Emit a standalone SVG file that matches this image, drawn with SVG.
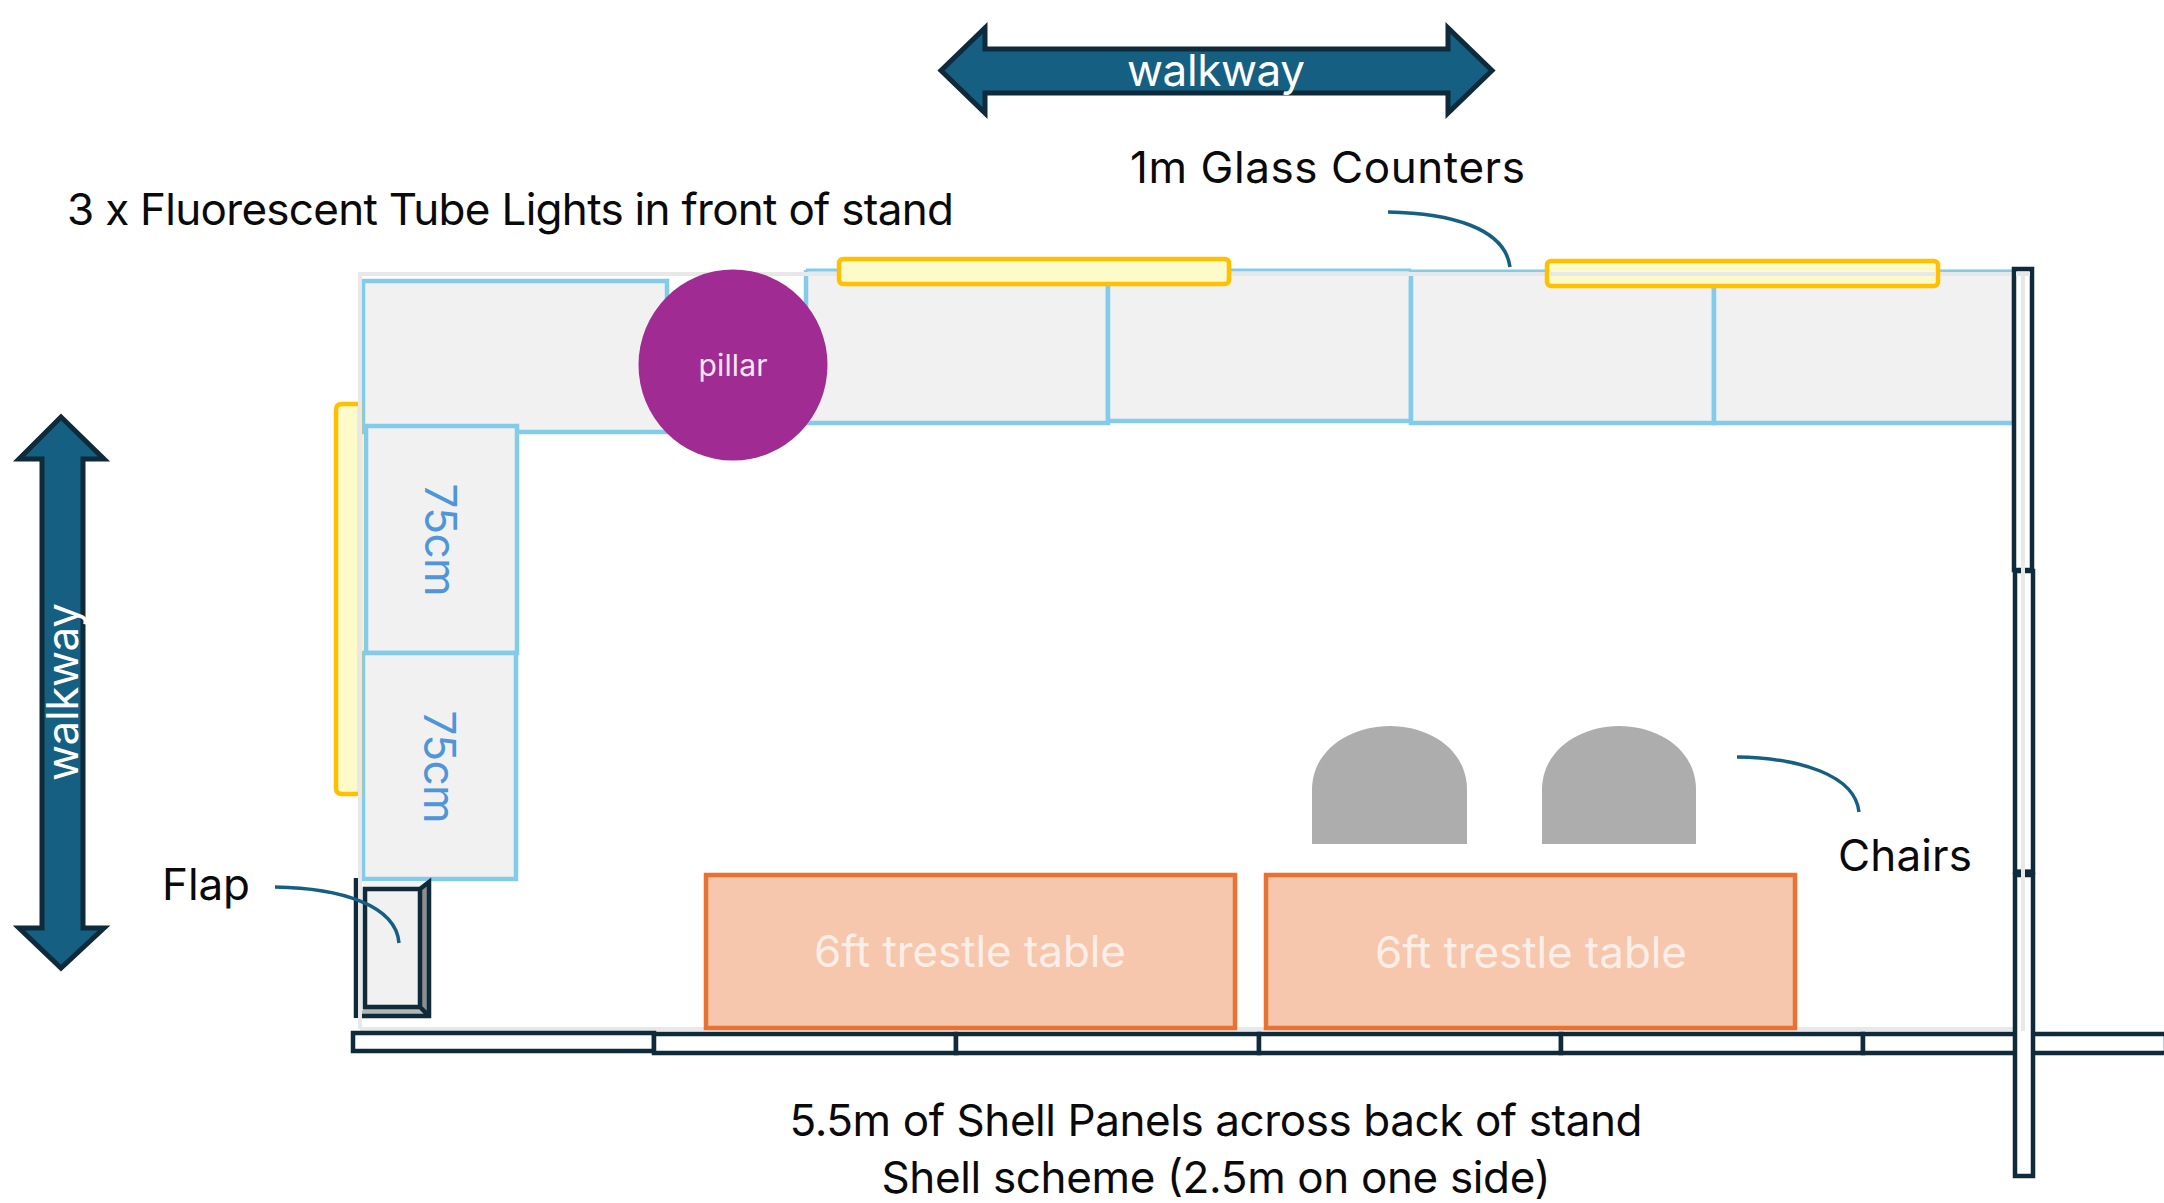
<svg xmlns="http://www.w3.org/2000/svg" width="2164" height="1203" viewBox="0 0 2164 1203">
<style>
text{font-family:"Inter","Liberation Sans",sans-serif}
.lbl{font-size:44px;fill:#0a0a0a}
.ctr{fill:#f1f1f1;stroke:#83cbeb;stroke-width:4.500}
.lamp{fill:#fefbcb;stroke:#ffc000;stroke-width:4.500}
.panel{fill:#fff;stroke:#0e2a3b;stroke-width:4.500}
.arrow{fill:#156082;stroke:#0e2a3b;stroke-width:5}
.table{fill:#f6c6ad;stroke:#e97132;stroke-width:4.500}
.tt{font-size:44px;fill:#fbeee7;text-anchor:middle}
.wk{font-size:44px;fill:#fff;text-anchor:middle}
.cm{font-size:44px;fill:#4e95d9;text-anchor:middle}
.chair{fill:#adadad}
.lead{fill:none;stroke:#156082;stroke-width:3.500}
.outline{fill:none;stroke:#e8e8e8;stroke-width:4}
</style>
<g id="walkway-top"><path class="arrow" d="M941 70.500L985 28V49H1448V28L1492 70.500L1448 113V93H985V113Z"/><text class="wk" x="1216" y="86" textLength="178">walkway</text></g>
<g id="walkway-left"><path class="arrow" d="M61 417L104 459H83V928H104L61 968L19 928H42V459H19Z"/><text class="wk" transform="translate(78 692) rotate(-90)" textLength="178">walkway</text></g>
<g id="counter-bg"><path d="M806 272H2014V423H806Z" fill="#f1f1f1"/></g>
<g id="counter-1"><path class="ctr" d="M363 281H667V432H363Z"/></g>
<g id="counter-3"><path class="ctr" fill="none" d="M806 270V423H1108V272"/></g>
<g id="counter-4"><path class="ctr" d="M1108 280V421H1411V280"/></g>
<g id="counter-5"><path class="ctr" d="M1411 270V423H1714V272"/></g>
<g id="counter-6"><path class="ctr" d="M1714 272V423H2014V272Z"/></g>
<path d="M806 270H1411M1411 271H2014" fill="none" stroke="#83cbeb" stroke-width="3"/>
<g id="counter-75a"><rect class="ctr" x="366" y="426" width="151" height="227"/><text class="cm" transform="translate(425 540) rotate(90)" textLength="113">75cm</text></g>
<g id="counter-75b"><rect class="ctr" x="363" y="653" width="153" height="226"/><text class="cm" transform="translate(424 767) rotate(90)" textLength="113">75cm</text></g>
<g id="lamp-left"><path class="lamp" d="M360 404H342Q336 404 336 410V788Q336 794 342 794H360Z"/></g>
<g id="chair-1"><path class="chair" d="M1312 844V790C1312 750 1350 726 1390 726C1430 726 1467 750 1467 790V844Z"/></g>
<g id="chair-2"><path class="chair" d="M1542 844V790C1542 750 1580 726 1619 726C1659 726 1696 750 1696 790V844Z"/></g>
<g id="flap">
<rect x="364" y="888" width="64" height="128" fill="#f1f1f1"/>
<path d="M362 881H429L420 889H365Z" fill="#f4f4f4"/>
<path d="M420 889L429 881V1016L420 1007Z" fill="#8e8e8e"/>
<path d="M365 1007H420L429 1016H358Z" fill="#b5b5b5"/>
<path d="M365 889H420V1007H365Z M420 889L429 882V1016H358M420 1007L429 1016" fill="none" stroke="#0e2a3b" stroke-width="4.500"/>
<path d="M356 878V1018" stroke="#0e2a3b" stroke-width="4.500" fill="none"/>
</g>
<path id="stand-outline" class="outline" d="M360 1029V274H2023V1029H360"/>
<g id="table-1"><rect class="table" x="706" y="875" width="529" height="153"/><text class="tt" x="970" y="967" textLength="312">6ft trestle table</text></g>
<g id="table-2"><rect class="table" x="1266" y="875" width="529" height="153"/><text class="tt" x="1531" y="968" textLength="312">6ft trestle table</text></g>
<g id="panels">
<rect class="panel" x="353" y="1033" width="301" height="18"/>
<rect class="panel" x="654" y="1034" width="302" height="19"/>
<rect class="panel" x="956" y="1034" width="303" height="19"/>
<rect class="panel" x="1259" y="1034" width="302" height="19"/>
<rect class="panel" x="1561" y="1034" width="302" height="19"/>
<rect class="panel" x="1863" y="1034" width="303" height="19"/>
<rect class="panel" x="2014" y="269" width="18" height="301"/>
<rect class="panel" x="2015" y="571" width="18" height="301"/>
<rect class="panel" x="2015" y="875" width="18" height="301"/>
<path d="M2013 873H2035" stroke="#0e2a3b" stroke-width="7"/>
</g>
<path d="M2023 274V1031M2016 274H2030" fill="none" stroke="#e8e8e8" stroke-width="4"/>
<g id="lamp-top-1"><rect class="lamp" x="839" y="259" width="390" height="25" rx="4"/></g>
<g id="lamp-top-2"><rect class="lamp" x="1547" y="261" width="391" height="25" rx="4"/><path d="M1549 274H1936" stroke="#e8e8e8" stroke-width="4"/></g>
<g id="pillar"><ellipse cx="733" cy="365" rx="94.500" ry="95.500" fill="#a02b93"/><text x="733" y="376" font-size="30" fill="#f7e6f4" text-anchor="middle" textLength="69">pillar</text></g>
<g id="connectors">
<path class="lead" d="M1388 212C1450 213 1505 228 1510 267"/>
<path class="lead" d="M275 887C340 888 396 905 399 943"/>
<path class="lead" d="M1737 757C1800 758 1855 775 1859 812"/>
</g>
<g id="labels">
<text class="lbl" x="67" y="225" textLength="887">3 x Fluorescent Tube Lights in front of stand</text>
<text class="lbl" x="1130" y="183" textLength="395">1m Glass Counters</text>
<text class="lbl" x="162" y="900" textLength="88">Flap</text>
<text class="lbl" x="1838" y="871" textLength="134">Chairs</text>
<text class="lbl" x="1216" y="1136" text-anchor="middle" textLength="853">5.5m of Shell Panels across back of stand</text>
<text class="lbl" x="1216" y="1193" text-anchor="middle" textLength="669">Shell scheme (2.5m on one side)</text>
</g>
</svg>
